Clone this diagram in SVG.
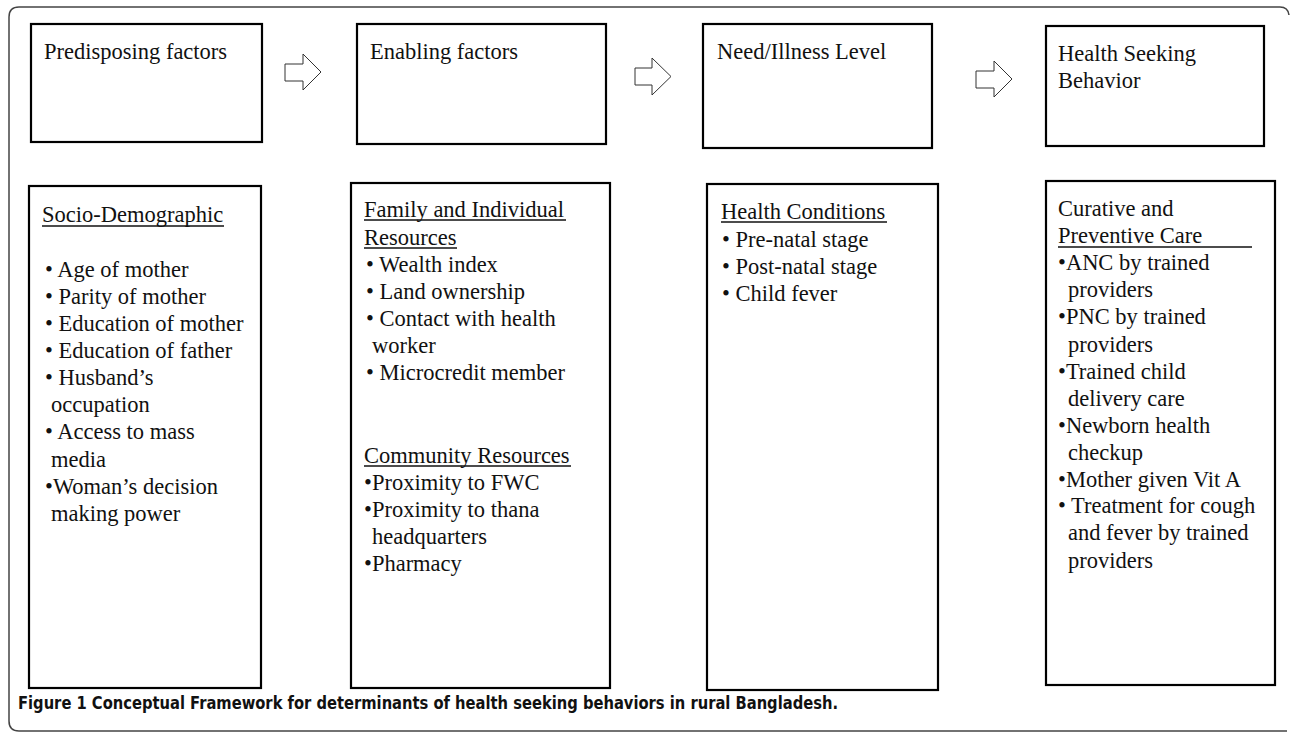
<svg xmlns="http://www.w3.org/2000/svg" width="1290" height="733" viewBox="0 0 1290 733">
<style>
  .box { fill: #fff; stroke: #000; stroke-width: 2.2; }
  .t { font-family: "Liberation Serif", "Times New Roman", serif; font-size: 22.5px; fill: #111; }
  .ul { stroke: #111; stroke-width: 1.6; }
  .arr { fill: #fff; stroke: #333; stroke-width: 1; }
  .cap { font-family: "DejaVu Sans Condensed", "Liberation Sans", sans-serif; font-size: 18px; font-weight: bold; fill: #111; }
</style>
<rect width="1290" height="733" fill="#fff"/>
<path d="M 1287 731 L 19 731 Q 9 731 9 721 L 9 17 Q 9 7 19 7 L 1280 7 Q 1288 7 1289 15" fill="none" stroke="#444" stroke-width="1.5"/>

<g id="connectors">
  <polygon class="arr" points="285,64 303,64 303,54 321,72 303,90 303,81 285,81"/>
  <polygon class="arr" points="635,68 652,68 652,58 671,76.5 652,95 652,85 635,85"/>
  <polygon class="arr" points="976,71 994,71 994,61 1012,79 994,97 994,88 976,88"/>
</g>

<g id="predisposing">
  <rect class="box" x="31" y="24" width="231" height="118"/>
  <text class="t" x="44" y="59">Predisposing factors</text>
</g>
<g id="enabling">
  <rect class="box" x="357" y="24" width="249" height="120"/>
  <text class="t" x="370" y="59">Enabling factors</text>
</g>
<g id="need">
  <rect class="box" x="703" y="24" width="229" height="124"/>
  <text class="t" x="717" y="59">Need/Illness Level</text>
</g>
<g id="behavior">
  <rect class="box" x="1046" y="26" width="218" height="120"/>
  <text class="t" x="1058" y="61">Health Seeking</text>
  <text class="t" x="1058" y="88">Behavior</text>
</g>

<g id="socio-demographic">
  <rect class="box" x="29" y="186" width="232" height="502"/>
  <text class="t" x="42" y="222">Socio-Demographic</text>
  <line class="ul" x1="42" y1="226" x2="224" y2="226"/>
  <text class="t" x="45" y="277">• Age of mother</text>
  <text class="t" x="45" y="304">• Parity of mother</text>
  <text class="t" x="45" y="331">• Education of mother</text>
  <text class="t" x="45" y="358">• Education of father</text>
  <text class="t" x="45" y="385">• Husband’s</text>
  <text class="t" x="51" y="412">occupation</text>
  <text class="t" x="45" y="439">• Access to mass</text>
  <text class="t" x="51" y="467">media</text>
  <text class="t" x="45" y="494">•Woman’s decision</text>
  <text class="t" x="51" y="521">making power</text>
</g>

<g id="resources">
  <rect class="box" x="351" y="183" width="259" height="505"/>
  <text class="t" x="364" y="217">Family and Individual</text>
  <line class="ul" x1="364" y1="220" x2="566" y2="220"/>
  <text class="t" x="364" y="245">Resources</text>
  <line class="ul" x1="364" y1="248" x2="457" y2="248"/>
  <text class="t" x="366" y="272">• Wealth index</text>
  <text class="t" x="366" y="299">• Land ownership</text>
  <text class="t" x="366" y="326">• Contact with health</text>
  <text class="t" x="372" y="353">worker</text>
  <text class="t" x="366" y="380">• Microcredit member</text>
  <text class="t" x="364" y="463">Community Resources</text>
  <line class="ul" x1="364" y1="466" x2="571" y2="466"/>
  <text class="t" x="364" y="490">•Proximity to FWC</text>
  <text class="t" x="364" y="517">•Proximity to thana</text>
  <text class="t" x="372" y="544">headquarters</text>
  <text class="t" x="364" y="571">•Pharmacy</text>
</g>

<g id="health-conditions">
  <rect class="box" x="707" y="184" width="231" height="506"/>
  <text class="t" x="721" y="219">Health Conditions</text>
  <line class="ul" x1="721" y1="222" x2="887" y2="222"/>
  <text class="t" x="722" y="247">• Pre-natal stage</text>
  <text class="t" x="722" y="274">• Post-natal stage</text>
  <text class="t" x="722" y="301">• Child fever</text>
</g>

<g id="care">
  <rect class="box" x="1046" y="181" width="229" height="504"/>
  <text class="t" x="1058" y="216">Curative and</text>
  <text class="t" x="1058" y="243">Preventive Care</text>
  <line class="ul" x1="1058" y1="247" x2="1252" y2="247"/>
  <text class="t" x="1058" y="270">•ANC by trained</text>
  <text class="t" x="1068" y="297">providers</text>
  <text class="t" x="1058" y="324">•PNC by trained</text>
  <text class="t" x="1068" y="352">providers</text>
  <text class="t" x="1058" y="379">•Trained child</text>
  <text class="t" x="1068" y="406">delivery care</text>
  <text class="t" x="1058" y="433">•Newborn health</text>
  <text class="t" x="1068" y="460">checkup</text>
  <text class="t" x="1058" y="487">•Mother given Vit A</text>
  <text class="t" x="1058" y="513">• Treatment for cough</text>
  <text class="t" x="1068" y="540">and fever by trained</text>
  <text class="t" x="1068" y="568">providers</text>
</g>

<text class="cap" x="18" y="709" textLength="820" lengthAdjust="spacingAndGlyphs">Figure 1 Conceptual Framework for determinants of health seeking behaviors in rural Bangladesh.</text>
</svg>
